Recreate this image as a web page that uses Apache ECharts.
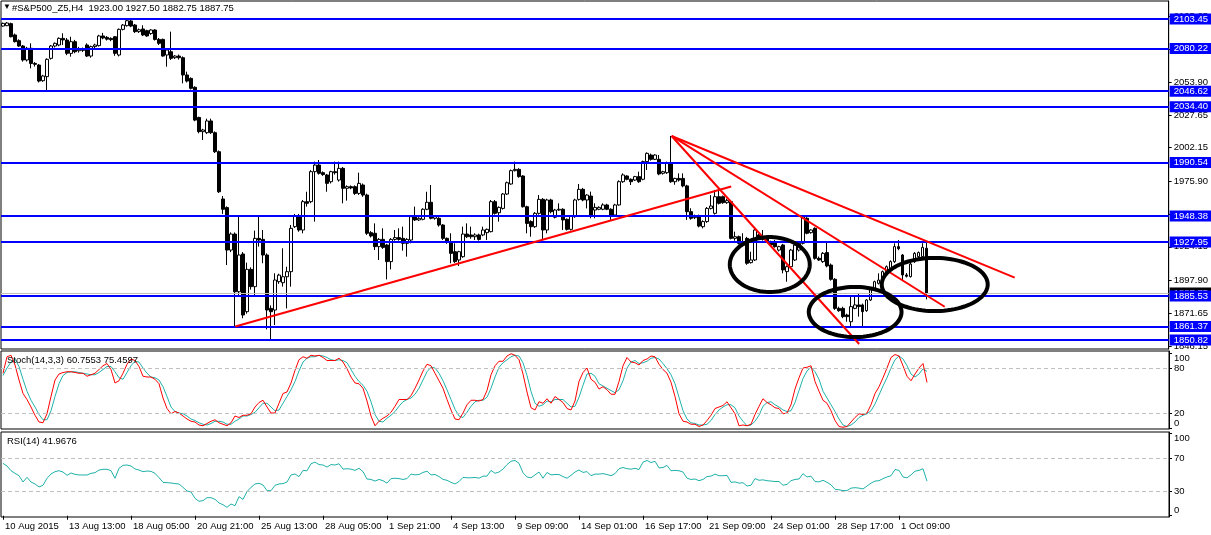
<!DOCTYPE html>
<html><head><meta charset="utf-8">
<script src="https://cdn.jsdelivr.net/npm/echarts@6/dist/echarts.min.js"></script>
<style>html,body{margin:0;padding:0;background:#fff}#c{width:1211px;height:535px}</style>
</head><body><div id="c"></div>
<script>
// ---------- DATA ----------
const barOpen = [
2097.9,2098.2,2099.8,2090.9,2086.4,2082.2,2071.2,2080.4,2068.5,2067.2,
2054.9,2058.1,2072.5,2082.2,2083.0,2088.2,2086.9,2076.4,2085.6,2078.5,
2080.0,2083.0,2074.3,2081.7,2082.5,2090.1,2089.0,2088.2,2089.5,2075.1,
2095.3,2098.2,2101.9,2098.7,2093.5,2095.6,2094.3,2092.0,2094.8,2087.4,
2087.4,2075.1,2077.7,2073.0,2074.3,2073.0,2059.4,2056.7,2049.7,2026.0,
2014.8,2014.0,2023.2,2014.0,1999.0,1961.8,1955.0,1921.6,1934.2,1888.8,
1918.5,1873.1,1906.4,1892.8,1930.8,1930.0,1917.7,1875.7,1874.4,1896.7,
1895.9,1900.6,1904.6,1940.0,1948.4,1937.4,1959.7,1959.7,1983.3,1988.5,
1982.5,1980.7,1975.4,1983.3,1976.7,1985.9,1970.2,1971.5,1971.5,1966.2,
1972.8,1964.9,1935.3,1934.8,1924.3,1930.0,1925.6,1912.5,1930.0,1931.4,
1930.8,1926.9,1929.5,1947.9,1945.3,1945.8,1953.7,1959.2,1946.6,1946.6,
1941.3,1930.8,1927.5,1920.3,1913.8,1916.4,1934.2,1933.5,1932.1,1933.5,
1933.5,1935.3,1936.1,1959.7,1951.0,1954.4,1965.7,1973.6,1984.1,1985.1,
1979.9,1955.7,1944.0,1940.0,1950.5,1961.5,1937.4,1961.0,1947.4,1953.1,
1953.7,1945.8,1937.9,1947.9,1961.5,1969.4,1961.0,1964.1,1953.1,1953.7,
1953.7,1957.1,1953.7,1949.2,1957.1,1975.4,1979.9,1977.3,1976.7,1979.4,
1977.3,1991.2,1996.4,1993.0,1993.0,1982.0,1982.5,1990.4,1975.4,1978.0,
1978.0,1972.1,1951.8,1947.1,1948.4,1940.0,1944.0,1954.4,1950.5,1963.6,
1963.6,1958.9,1959.7,1930.8,1932.1,1926.9,1930.8,1911.7,1913.8,1933.5,
1930.0,1932.1,1928.2,1928.2,1921.6,1925.6,1904.6,1908.5,1913.8,1921.6,
1926.9,1946.6,1935.3,1938.7,1915.1,1912.5,1919.6,1909.8,1898.6,1875.7,
1875.7,1870.5,1865.2,1875.7,1878.4,1878.4,1873.9,1882.3,1891.5,1895.4,
1898.0,1904.6,1907.2,1912.5,1924.3,1917.7,1902.0,1900.7,1912.5,1916.4,
1916.4,1923.00];
const barHigh = [
2100.6,2101.0,2100.6,2092.0,2087.5,2083.0,2081.5,2084.3,2069.5,2068.0,
2059.5,2072.5,2083.0,2085.0,2089.0,2092.2,2088.5,2089.5,2087.0,2081.5,
2081.0,2084.3,2082.5,2084.0,2091.0,2092.5,2090.0,2089.0,2090.0,2096.0,
2099.5,2103.0,2102.8,2099.5,2096.0,2098.5,2095.0,2095.5,2095.5,2088.5,
2088.0,2080.0,2093.5,2075.0,2075.5,2074.0,2062.0,2057.5,2050.5,2026.5,
2017.0,2025.0,2025.0,2015.0,2000.0,1964.1,1956.0,1935.5,1935.5,1949.2,
1920.0,1911.7,1908.0,1936.9,1947.9,1937.4,1919.0,1878.0,1903.3,1903.0,
1923.0,1908.5,1941.3,1950.0,1950.0,1961.0,1967.5,1984.5,1991.2,1992.5,
1983.5,1981.5,1984.0,1991.2,1991.2,1987.0,1972.5,1972.5,1972.5,1982.5,
1974.0,1966.0,1936.5,1942.6,1931.0,1938.7,1926.5,1931.0,1937.4,1938.7,
1940.0,1931.0,1948.4,1955.8,1947.5,1954.5,1967.5,1972.8,1948.5,1947.5,
1942.0,1931.5,1934.8,1926.9,1921.0,1940.0,1942.6,1940.0,1934.8,1934.5,
1940.0,1938.5,1961.0,1961.0,1956.0,1966.5,1975.5,1985.0,1991.2,1986.0,
1980.5,1956.5,1945.0,1951.5,1964.9,1962.5,1962.0,1962.0,1954.0,1958.4,
1954.5,1946.5,1949.0,1962.0,1973.6,1970.5,1965.5,1967.6,1958.4,1956.0,
1958.4,1958.0,1954.5,1958.0,1976.5,1982.0,1980.5,1978.0,1980.0,1983.3,
1992.0,1998.5,1997.5,1997.0,1996.4,1984.0,1991.2,2011.4,1978.5,1982.0,
1982.0,1973.0,1954.5,1949.5,1949.5,1945.0,1955.5,1964.9,1968.9,1970.2,
1964.5,1962.0,1960.5,1936.1,1933.0,1934.8,1932.0,1920.3,1938.7,1934.5,
1937.4,1933.0,1929.0,1929.5,1925.0,1926.5,1909.5,1922.5,1926.5,1927.5,
1949.2,1947.5,1938.0,1939.5,1916.5,1920.0,1928.2,1911.0,1899.5,1877.0,
1877.0,1871.5,1885.0,1885.0,1887.5,1879.5,1883.0,1891.5,1897.5,1903.3,
1905.5,1909.5,1913.5,1926.9,1929.5,1918.5,1903.5,1913.8,1920.0,1920.5,
1927.0,1927.50];
const barLow = [
2097.4,2097.9,2089.0,2085.0,2081.5,2069.9,2070.0,2064.6,2066.0,2053.5,
2054.0,2047.0,2071.5,2081.0,2082.0,2083.0,2075.0,2073.8,2076.5,2077.0,
2077.5,2073.5,2073.0,2080.5,2081.8,2087.5,2086.5,2086.0,2074.5,2074.0,
2094.5,2097.5,2097.0,2092.5,2092.5,2090.0,2089.5,2091.0,2086.5,2083.0,
2073.8,2065.9,2071.2,2072.0,2071.5,2052.8,2053.5,2048.0,2023.0,2013.5,
2008.2,2013.0,2013.0,1998.0,1966.5,1950.0,1909.8,1920.0,1861.3,1884.9,
1867.9,1871.5,1890.5,1886.2,1924.3,1911.2,1859.2,1850.8,1862.6,1895.0,
1892.8,1875.7,1892.8,1939.0,1936.0,1934.8,1955.8,1958.5,1944.0,1981.0,
1980.0,1967.5,1974.0,1981.0,1975.5,1958.4,1960.5,1969.5,1965.0,1965.0,
1963.5,1933.5,1931.5,1921.6,1913.8,1922.5,1898.5,1906.4,1929.0,1929.0,
1921.1,1916.4,1926.9,1944.5,1944.5,1945.0,1953.0,1945.8,1945.5,1940.0,
1929.5,1926.5,1911.2,1911.5,1909.1,1915.5,1931.0,1930.5,1929.5,1929.0,
1932.5,1929.5,1935.5,1949.5,1944.0,1953.5,1965.0,1973.0,1983.5,1978.5,
1955.0,1934.8,1932.1,1939.0,1949.5,1929.5,1934.8,1950.5,1946.5,1952.5,
1937.4,1937.0,1937.0,1947.0,1960.5,1960.0,1954.4,1946.6,1946.6,1953.0,
1953.0,1953.0,1945.3,1948.5,1956.5,1974.5,1976.5,1972.8,1976.0,1974.5,
1976.5,1984.6,1992.0,1992.5,1980.5,1981.0,1981.5,1974.5,1973.0,1975.5,
1971.0,1945.3,1945.5,1946.0,1939.5,1938.7,1943.0,1953.5,1949.5,1957.5,
1958.0,1958.0,1930.0,1929.0,1926.0,1926.0,1910.0,1911.0,1913.0,1930.0,
1929.0,1927.5,1924.5,1923.5,1920.5,1903.3,1896.7,1907.5,1913.0,1920.5,
1926.0,1934.0,1934.5,1914.0,1913.0,1911.5,1908.0,1897.5,1874.5,1873.0,
1868.0,1865.2,1861.3,1875.0,1869.2,1861.3,1873.0,1881.5,1890.5,1894.5,
1897.0,1903.5,1906.5,1911.5,1921.5,1898.0,1900.0,1900.0,1911.5,1915.5,
1915.5,1882.75];
const barClose = [
2100.0,2100.3,2089.5,2085.6,2082.2,2071.2,2080.4,2068.5,2067.8,2054.6,
2058.6,2071.7,2082.2,2084.3,2088.2,2087.0,2076.4,2085.6,2077.7,2080.0,
2078.8,2074.3,2081.7,2083.0,2090.1,2088.5,2087.6,2087.2,2076.4,2095.3,
2098.7,2102.1,2097.9,2093.5,2095.0,2090.9,2090.1,2094.8,2087.4,2084.3,
2074.3,2079.1,2072.5,2074.3,2073.0,2059.4,2054.6,2048.9,2023.9,2014.8,
2016.1,2023.2,2014.0,1999.0,1967.5,1953.7,1921.6,1934.2,1888.8,1917.7,
1870.5,1906.4,1892.8,1930.8,1929.5,1917.7,1874.4,1873.1,1898.0,1901.9,
1900.6,1904.6,1938.7,1948.4,1937.4,1959.7,1958.4,1983.3,1988.5,1982.0,
1981.0,1974.1,1983.3,1982.5,1985.9,1970.2,1971.5,1970.5,1966.2,1974.1,
1964.9,1934.8,1932.7,1924.3,1930.0,1923.7,1912.5,1930.0,1931.4,1930.0,
1926.9,1930.0,1947.9,1945.3,1946.6,1953.7,1959.2,1946.6,1947.9,1941.3,
1930.8,1928.0,1919.0,1912.5,1920.3,1934.2,1932.1,1932.1,1933.5,1930.0,
1937.4,1937.9,1959.7,1950.5,1955.2,1965.7,1974.6,1984.1,1985.1,1979.4,
1955.7,1942.6,1940.0,1950.5,1961.5,1937.4,1961.0,1951.8,1953.1,1953.7,
1945.3,1937.9,1948.4,1961.0,1969.4,1961.0,1964.9,1949.2,1955.2,1955.2,
1957.1,1953.7,1949.2,1957.1,1975.4,1980.7,1977.3,1975.4,1979.4,1975.4,
1991.2,1997.7,1993.0,1996.4,1981.5,1983.3,1990.4,1975.4,1978.0,1976.7,
1972.1,1951.8,1946.6,1948.4,1940.5,1944.0,1954.4,1956.3,1963.6,1958.4,
1958.9,1960.5,1930.8,1932.1,1926.9,1928.2,1911.2,1913.8,1937.4,1930.8,
1932.1,1928.2,1925.6,1924.3,1924.3,1906.0,1908.5,1921.6,1925.6,1926.9,
1947.9,1934.8,1937.4,1915.1,1913.8,1919.0,1909.1,1898.6,1875.7,1873.9,
1869.2,1869.2,1877.1,1878.4,1877.1,1873.1,1882.3,1890.7,1896.7,1898.0,
1904.6,1908.5,1912.5,1924.3,1922.7,1902.0,1901.0,1910.6,1919.0,1919.6,
1923.7,1887.75];
const stochMain = [
73,95,97,84,64,46,38,28,17,8,
7,19,42,64,72,74,75,75,74,73,
73,69,71,73,78,83,86,78,60,63,
73,85,92,90,82,69,68,68,65,59,
40,26,19,22,20,16,12,9,8,4,
3,6,9,11,7,5,3,7,16,14,
17,17,19,28,34,37,28,20,20,33,
46,48,60,77,91,95,93,97,96,97,
94,90,90,90,93,88,79,68,60,59,
53,36,16,3,9,13,16,21,29,38,
38,38,43,53,64,76,85,83,73,63,
53,38,24,12,11,20,31,37,37,36,
38,50,71,83,89,89,96,99,97,91,
72,48,27,24,35,33,39,33,42,38,
34,26,24,36,62,74,80,65,61,52,
55,51,45,45,62,83,94,88,87,84,
90,92,96,95,85,78,73,61,42,19,
9,8,5,5,2,4,10,17,26,28,
30,35,27,19,3,4,3,5,18,29,
39,34,31,27,26,19,20,31,52,67,
80,81,83,62,49,37,33,23,10,2,
1,2,8,14,19,18,20,31,46,55,
67,80,94,98,96,83,69,63,72,80,
86,60.7553];
const stochSignal = [
70,80,88,92,82,65,49,37,28,18,
11,11,23,42,59,70,74,75,75,74,
73,72,71,71,74,78,82,82,75,67,
65,74,83,89,88,80,73,68,67,64,
55,42,28,22,20,19,16,12,10,7,
5,4,6,9,9,8,5,5,9,12,
16,16,18,21,27,33,33,28,23,24,
33,42,51,62,76,88,93,95,95,97,
96,94,91,90,91,90,87,78,69,62,
57,49,35,18,9,8,13,17,22,29,
35,38,40,45,53,64,75,81,80,73,
63,51,38,25,16,14,21,29,35,37,
37,41,53,68,81,87,91,95,97,96,
87,70,49,33,29,31,36,35,38,38,
38,33,28,29,41,57,72,73,69,59,
56,53,50,47,51,63,80,88,90,86,
87,89,93,94,92,86,79,71,59,41,
23,12,7,6,4,4,5,10,18,24,
28,31,31,27,16,9,3,4,9,17,
29,34,35,31,28,24,22,23,34,50,
66,76,81,75,65,49,40,31,22,12,
4,2,4,8,14,17,19,23,32,44,
56,67,80,91,96,92,83,72,68,72,
79,75.4597];
const rsiValues = [
63.5,60.3,54.6,51.4,48.6,40.9,46.6,40.9,38.5,34.9,
36.9,45.4,50.6,53.4,54.6,53.0,49.0,51.8,50.2,49.4,
49.4,49.4,51.4,52.2,55.4,56.3,56.3,54.6,45.4,57.5,
61.1,61.5,60.3,56.7,55.4,53.4,54.2,53.8,51.4,46.2,
40.5,40.1,39.7,38.9,38.5,34.4,30.0,28.8,21.1,17.5,
18.3,21.9,21.9,19.9,15.5,13.4,10.2,14.2,12.2,23.1,
19.9,29.2,34.4,38.5,39.3,37.3,30.4,30.4,36.9,38.5,
38.9,40.9,49.4,50.6,47.4,55.0,54.5,63.0,65.0,62.0,
61.5,59.0,62.0,61.5,63.0,56.5,57.0,56.5,55.0,57.5,
53.5,44.5,44.0,42.0,44.0,42.5,39.5,45.0,45.5,45.0,
44.0,45.0,50.5,49.5,50.0,52.5,54.0,49.5,50.0,47.5,
44.0,43.0,40.5,38.5,41.5,46.5,46.0,46.0,46.5,45.5,
48.0,48.0,55.0,51.5,53.0,56.5,62.0,66.0,67.0,63.5,
52.0,47.0,46.0,49.5,53.0,45.5,52.5,49.5,50.0,50.0,
47.5,45.5,49.0,53.0,55.5,52.5,53.5,48.5,50.5,50.5,
51.0,50.0,48.5,51.0,57.0,58.5,57.0,56.5,57.5,56.0,
65.0,67.0,64.5,66.0,58.0,58.5,61.0,54.5,55.0,54.5,
53.0,45.5,44.0,44.5,42.5,44.0,47.5,48.0,50.5,48.5,
48.5,49.0,40.5,41.0,39.5,40.0,36.0,37.0,45.0,43.0,
43.5,42.5,42.0,41.5,41.5,37.0,38.0,42.5,44.0,44.5,
51.0,47.0,48.0,41.5,41.0,43.0,40.5,37.5,32.0,31.5,
30.5,30.5,33.5,34.0,33.5,32.5,36.0,39.5,42.0,42.5,
45.0,47.0,48.5,56.0,55.0,47.0,46.0,49.5,54.0,55.0,
57.0,41.9676];
const priceLevels = [2103.45, 2080.22, 2046.62, 2034.40, 1990.54, 1948.38, 1927.95, 1885.53, 1861.37, 1850.82];
const bidPrice = 1887.75;
const priceTicks = [2105.65, 2079.40, 2053.90, 2027.65, 2002.15, 1975.90, 1949.65, 1924.15, 1897.90, 1871.65, 1846.15];
const stochTicks = [0, 20, 80, 100];
const stochLevels = [20, 80];
const rsiTicks = [0, 30, 70, 100];
const rsiLevels = [30, 70];
const timeTickLabels = ['10 Aug 2015','13 Aug 13:00','18 Aug 05:00','20 Aug 21:00','25 Aug 13:00','28 Aug 05:00','1 Sep 21:00','4 Sep 13:00','9 Sep 09:00','14 Sep 01:00','16 Sep 17:00','21 Sep 09:00','24 Sep 01:00','28 Sep 17:00','1 Oct 09:00'];
// trendlines: [[barIndex, price],[barIndex, price]]
const trendLines = [
  [[58.1, 1861.45], [182.1, 1971.6]],
  [[167.2, 2011.4], [214.1, 1847.65]],
  [[167.2, 2011.4], [235.5, 1877.0]],
  [[167.2, 2011.4], [253.0, 1899.85]]
];
// ellipses: [centerBar, centerPrice, radiusBars, radiusPrice]
const ellipses = [
  [191.75, 1910.2, 10.0, 21.6],
  [213.1, 1872.85, 11.6, 19.7],
  [233.0, 1894.5, 13.25, 20.9]
];

// ---------- BUILD ----------
const SLOTS = 292;           // visible bar slots incl. empty right margin
const TICK_STEP = 16;
const FONT = "'Liberation Sans', Arial, 'DejaVu Sans', sans-serif";
const FS = 9.5;

const MON = ['Jan','Feb','Mar','Apr','May','Jun','Jul','Aug','Sep','Oct','Nov','Dec'];
const categories = [];
let t = Date.UTC(2015, 7, 10, 21);
while (categories.length < SLOTS) {
  const d = new Date(t);
  const wd = d.getUTCDay();
  if (wd >= 1 && wd <= 5) {
    categories.push(d.getUTCDate() + ' ' + MON[d.getUTCMonth()] + ' ' + String(d.getUTCHours()).padStart(2,'0') + ':00');
  }
  t += 4 * 3600 * 1000;
}
const nBars = barOpen.length;
const candles = barOpen.map((o, i) => [o, barClose[i], barLow[i], barHigh[i]]);

const last = nBars - 1;
const header = '#S&P500_Z5,H4  ' + [barOpen[last], barHigh[last], barLow[last], barClose[last]].map(v => v.toFixed(2)).join(' ');

const chart = echarts.init(document.getElementById('c'), null, {renderer: 'canvas'});

const hiddenCat = (grid) => ({
  type: 'category', gridIndex: grid, data: categories, boundaryGap: true,
  axisLine: {show: false}, axisTick: {show: false}, axisLabel: {show: false}, splitLine: {show: false}
});
const tickShow = (idx) => idx % TICK_STEP === 0 && idx / TICK_STEP < timeTickLabels.length;

const levelLabelRich = {
  t: {padding: [10, 0, 0, 0], fontSize: FS, fontFamily: FONT, color: '#000'},
  b: {padding: [0, 0, 10, 0], fontSize: FS, fontFamily: FONT, color: '#000'}
};
const edgeFormatter = (maxV) => (v) => v === maxV ? '{t|' + v + '}' : (v === 0 ? '{b|0}' : String(v));

const option = {
  animation: false,
  backgroundColor: '#ffffff',
  grid: [
    {left: 1, top: 1, width: 1168, height: 348, show: true, borderColor: '#000', borderWidth: 1, backgroundColor: '#fff'},
    {left: 1, top: 351, width: 1168, height: 78, show: true, borderColor: '#000', borderWidth: 1, backgroundColor: '#fff'},
    {left: 1, top: 432, width: 1168, height: 85, show: true, borderColor: '#000', borderWidth: 1, backgroundColor: '#fff'}
  ],
  xAxis: [
    hiddenCat(0),
    {type: 'value', gridIndex: 0, min: -0.5, max: SLOTS - 0.5, show: false},
    hiddenCat(1),
    {
      type: 'category', gridIndex: 2, data: categories, boundaryGap: true,
      axisLine: {show: false},
      axisTick: {show: true, alignWithLabel: true, interval: tickShow, length: 4, lineStyle: {color: '#000'}},
      axisLabel: {
        show: true, interval: tickShow, align: 'left', margin: 4, padding: [0, 0, 0, 2],
        color: '#000', fontSize: FS, fontFamily: FONT,
        formatter: (v, idx) => timeTickLabels[Math.round(idx / TICK_STEP)] || ''
      },
      splitLine: {show: false}
    }
  ],
  yAxis: [
    {
      type: 'value', gridIndex: 0, position: 'right', min: 1843.73, max: 2117.62,
      axisLine: {show: true, onZero: false, lineStyle: {color: '#000'}},
      axisTick: {show: true, length: 3, lineStyle: {color: '#000'}, customValues: priceTicks},
      axisLabel: {customValues: priceTicks, formatter: v => v.toFixed(2), color: '#000', fontSize: FS, fontFamily: FONT, margin: 5},
      splitLine: {show: false}
    },
    {
      type: 'value', gridIndex: 1, position: 'right', min: -1.33, max: 102.67,
      axisLine: {show: true, onZero: false, lineStyle: {color: '#000'}},
      axisTick: {show: true, length: 3, lineStyle: {color: '#000'}, customValues: stochTicks},
      axisLabel: {customValues: stochTicks, formatter: edgeFormatter(100), rich: levelLabelRich, color: '#000', fontSize: FS, fontFamily: FONT, margin: 5},
      splitLine: {show: false}
    },
    {
      type: 'value', gridIndex: 2, position: 'right', min: -1.52, max: 101.5,
      axisLine: {show: true, onZero: false, lineStyle: {color: '#000'}},
      axisTick: {show: true, length: 3, lineStyle: {color: '#000'}, customValues: rsiTicks},
      axisLabel: {customValues: rsiTicks, formatter: edgeFormatter(100), rich: levelLabelRich, color: '#000', fontSize: FS, fontFamily: FONT, margin: 5},
      splitLine: {show: false}
    }
  ],
  series: [
    {
      type: 'candlestick', name: 'price', xAxisIndex: 0, yAxisIndex: 0, data: candles,
      barWidth: 3,
      itemStyle: {color: '#ffffff', color0: '#000000', borderColor: '#000000', borderColor0: '#000000', borderWidth: 1},
      markLine: {
        silent: true, animation: false, symbol: ['none', 'none'],
        lineStyle: {color: '#0000ff', width: 2, type: 'solid'},
        label: {
          show: true, position: 'end', distance: 1, formatter: p => Number(p.value).toFixed(2),
          backgroundColor: '#0000ff', color: '#ffffff', fontSize: FS, fontFamily: FONT,
          padding: [1, 5, 0, 4], lineHeight: 10
        },
        emphasis: {disabled: true},
        data: [{yAxis: bidPrice, lineStyle: {color: '#c0c0c0', width: 1}, label: {backgroundColor: '#000000'}}]
          .concat(priceLevels.map(v => ({yAxis: v})))
      },
      z: 2
    },
    ...trendLines.map(seg => ({
      type: 'line', xAxisIndex: 1, yAxisIndex: 0, data: seg, symbol: 'none', silent: true,
      lineStyle: {color: '#ff0000', width: 2}, z: 5
    })),
    {
      type: 'custom', xAxisIndex: 1, yAxisIndex: 0, data: ellipses, silent: true, z: 6,
      encode: {x: 0, y: 1},
      renderItem: (params, api) => {
        const c = api.coord([api.value(0), api.value(1)]);
        const s = api.size([api.value(2), api.value(3)]);
        const pts = [];
        for (let k = 0; k < 90; k++) {
          const a = k / 90 * Math.PI * 2;
          pts.push([c[0] + s[0] * Math.cos(a), c[1] + s[1] * Math.sin(a)]);
        }
        return {type: 'polygon', shape: {points: pts}, style: {fill: 'none', stroke: '#000', lineWidth: 4}};
      }
    },
    {
      type: 'line', xAxisIndex: 2, yAxisIndex: 1, data: stochSignal, symbol: 'none', silent: true,
      lineStyle: {color: '#20b2aa', width: 1}, z: 3,
      markLine: {
        silent: true, symbol: ['none', 'none'], label: {show: false},
        lineStyle: {color: '#c0c0c0', width: 1, type: [4, 3]},
        data: stochLevels.map(v => ({yAxis: v}))
      }
    },
    {
      type: 'line', xAxisIndex: 2, yAxisIndex: 1, data: stochMain, symbol: 'none', silent: true,
      lineStyle: {color: '#ff0000', width: 1}, z: 4
    },
    {
      type: 'line', xAxisIndex: 3, yAxisIndex: 2, data: rsiValues, symbol: 'none', silent: true,
      lineStyle: {color: '#20b2aa', width: 1}, z: 3,
      markLine: {
        silent: true, symbol: ['none', 'none'], label: {show: false},
        lineStyle: {color: '#c0c0c0', width: 1, type: [4, 3]},
        data: rsiLevels.map(v => ({yAxis: v}))
      }
    }
  ],
  graphic: [
    {type: 'text', left: 3, top: 3, z: 100, style: {text: '\u25BC', fill: '#000', font: '8px ' + FONT}},
    {type: 'text', left: 12, top: 3, z: 100, style: {text: header, fill: '#000', font: FS + 'px ' + FONT}},
    {type: 'text', left: 7, top: 355, z: 100, style: {text: 'Stoch(14,3,3) ' + stochMain[last].toFixed(4) + ' ' + stochSignal[last].toFixed(4), fill: '#000', font: FS + 'px ' + FONT}},
    {type: 'text', left: 7, top: 436, z: 100, style: {text: 'RSI(14) ' + rsiValues[last].toFixed(4), fill: '#000', font: FS + 'px ' + FONT}}
  ]
};
chart.setOption(option);
</script>
</body></html>
